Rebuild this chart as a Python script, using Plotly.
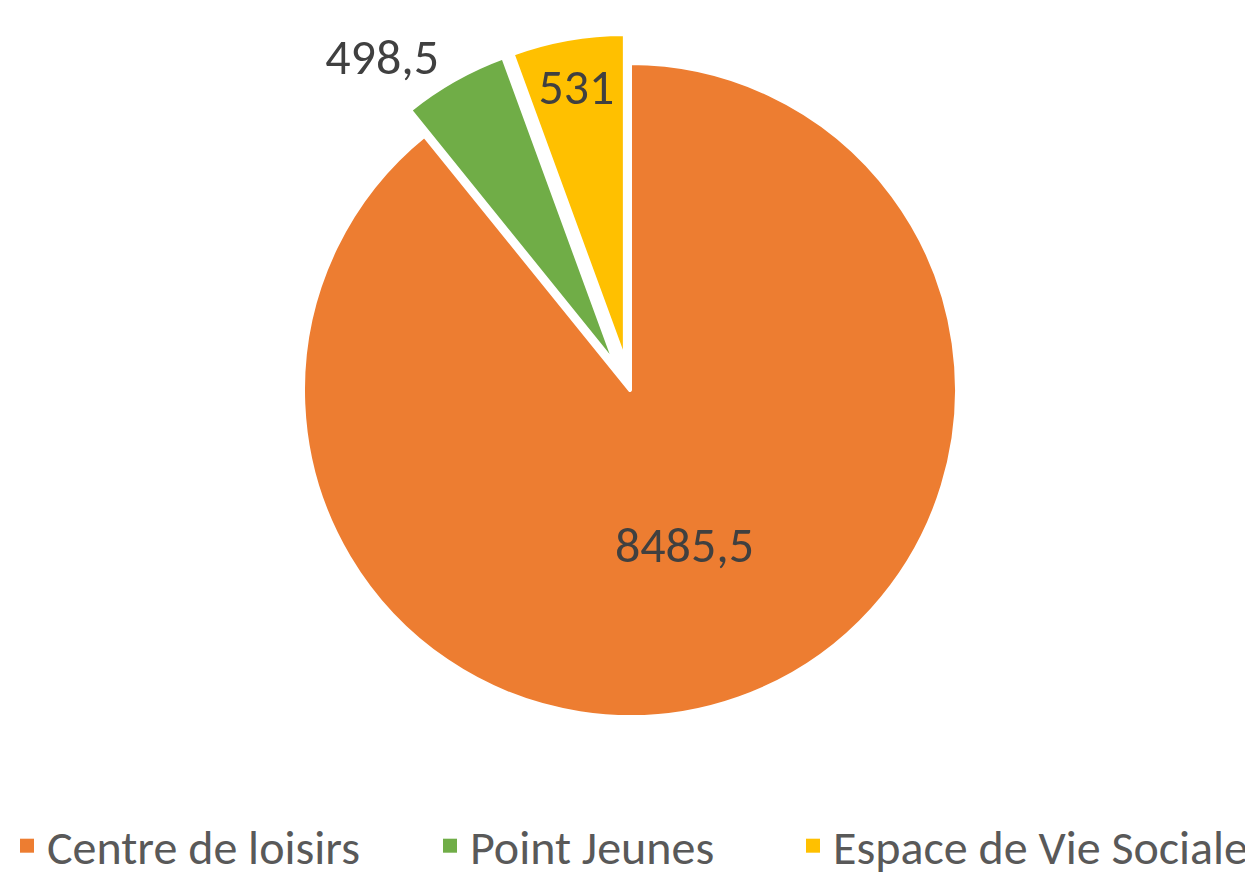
import plotly.graph_objects as go

categories = ["Centre de loisirs", "Point Jeunes", "Espace de Vie Sociale"]
values = [8485.5, 498.5, 531]
colors = ["#ED7D31", "#70AD47", "#FFC000"]
pulls = [0, 0.09, 0.09]
positions = ["inside", "outside", "inside"]

labels_text = [("%g" % v).replace(".", ",") for v in values]

W, H = 1253, 875
OFF = 8  # page body margin offset
cx, cy, r = 630 - OFF, 390 - OFF, 327
half = r * (1 + max(pulls))

fig = go.Figure()
fig.add_trace(go.Pie(
    labels=categories,
    values=values,
    text=labels_text,
    textinfo="text",
    textposition=positions,
    pull=pulls,
    sort=False,
    direction="clockwise",
    rotation=0,
    marker=dict(colors=colors, line=dict(color="white", width=4)),
    textfont=dict(size=50, color="#404040"),
    insidetextorientation="horizontal",
    domain=dict(x=[(cx - half) / W, (cx + half) / W],
                y=[1 - (cy + half) / H, 1 - (cy - half) / H]),
    hoverinfo="label+value",
    showlegend=False,
))

# legend entries (one legend per entry so the spacing can follow the reference)
legend_ids = ["legend", "legend2", "legend3"]
legend_marker_x = [29, 452, 815]  # marker centres (screen px)
for cat, col, lid in zip(categories, colors, legend_ids):
    fig.add_trace(go.Scatter(
        x=[None], y=[None], mode="markers", name=cat,
        marker=dict(symbol="square", size=14, color=col),
        legend=lid, showlegend=True, hoverinfo="skip",
    ))

legend_common = dict(orientation="h", xanchor="left", yanchor="middle",
                     y=1 - (846 - OFF) / H,
                     font=dict(size=48, color="#595959"),
                     itemwidth=30, bgcolor="rgba(0,0,0,0)")
layout_legends = {}
for lid, mx in zip(legend_ids, legend_marker_x):
    d = dict(legend_common)
    d["x"] = (mx - OFF - 22) / W
    layout_legends[lid] = d

fig.update_layout(
    width=W, height=H,
    margin=dict(l=0, r=0, t=0, b=0, autoexpand=False),
    paper_bgcolor="white",
    plot_bgcolor="white",
    font=dict(family="Carlito, Liberation Sans Narrow, Noto Sans, sans-serif", color="#595959"),
    showlegend=True,
    xaxis=dict(visible=False),
    yaxis=dict(visible=False),
    **layout_legends,
)

fig.write_html("out.html")
